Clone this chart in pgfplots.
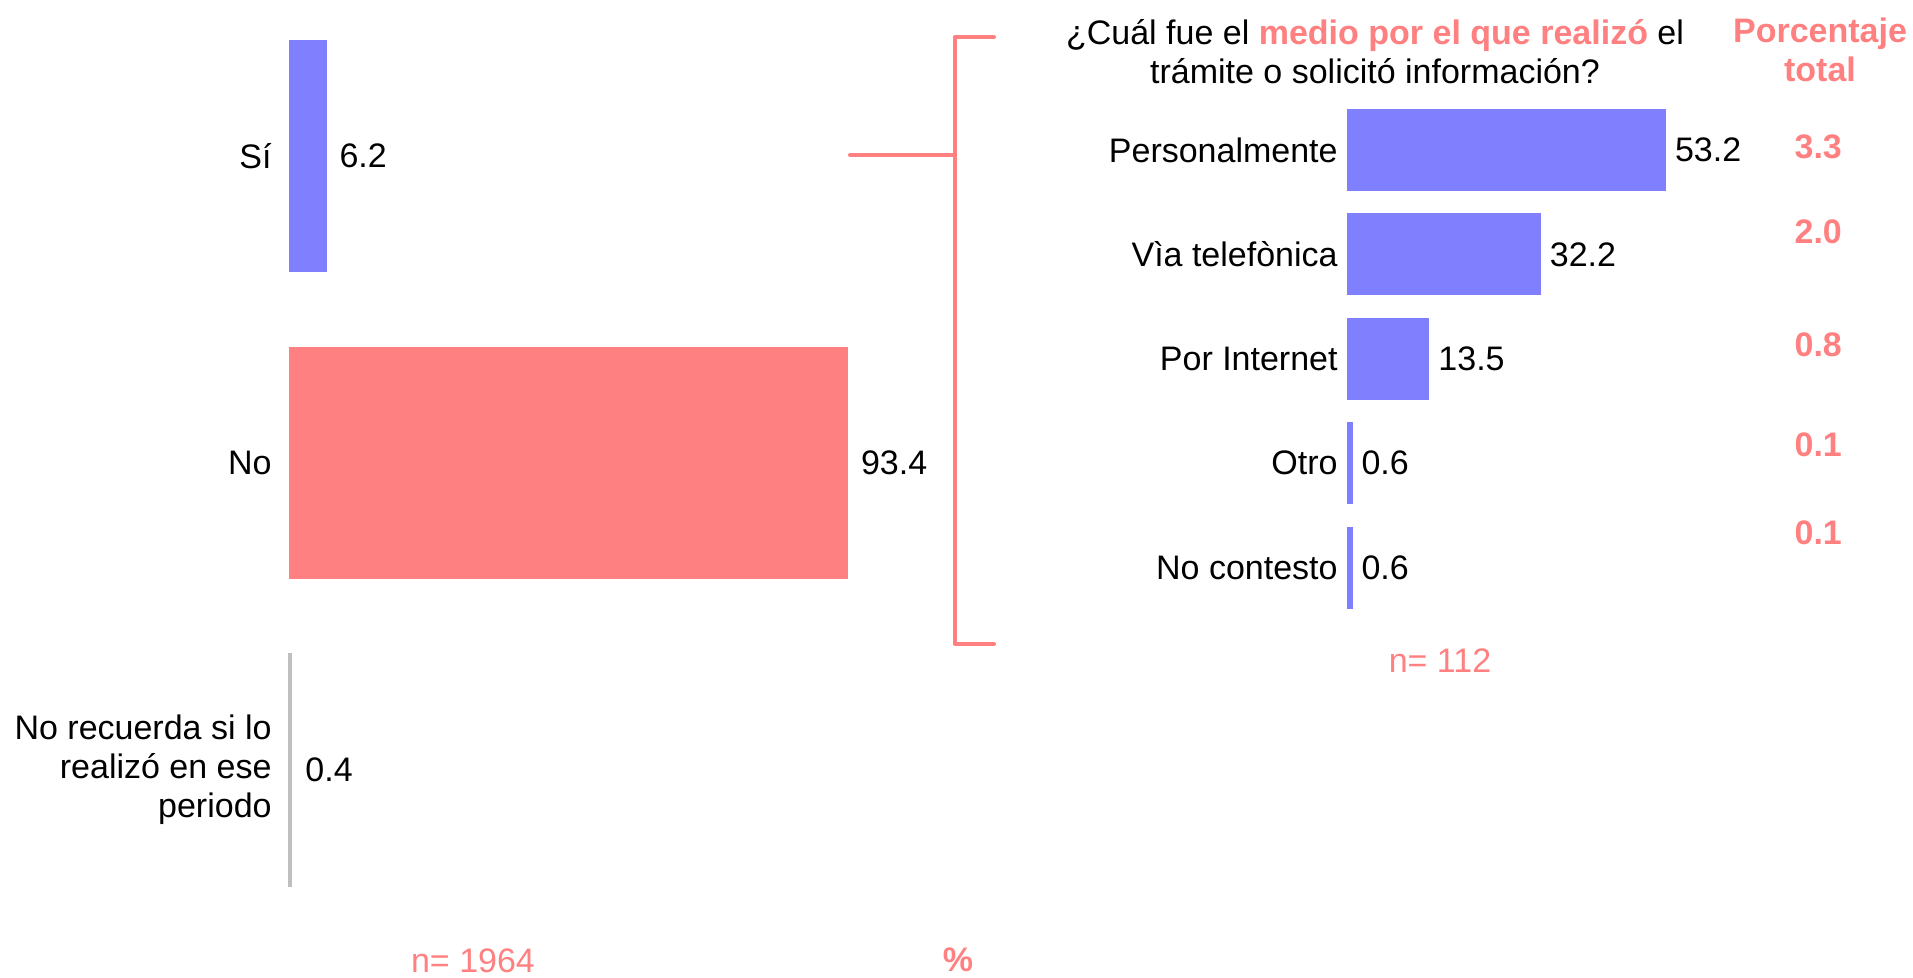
\documentclass[border=0pt]{standalone}
\usepackage{pgfplots}
\pgfplotsset{compat=1.18}
\usepackage{fontspec}
\setmainfont{Liberation Sans}
\definecolor{cblue}{HTML}{8080FF}
\definecolor{cpink}{HTML}{FF8080}
\definecolor{cgray}{HTML}{BFBFBF}
\newcommand{\fs}{\fontsize{17bp}{19.5bp}\selectfont}
\pgfplotsset{
  mybars/.style={
    scale only axis, clip=false,
    axis line style={draw=none},
    tick style={draw=none},
    major tick length=0pt,
    xtick=\empty,
    y dir=reverse,
    tick label style={font=\fs},
    yticklabel style={align=right, inner xsep=0pt},
    point meta=x,
    /pgf/number format/.cd, fixed, fixed zerofill, precision=1, assume math mode=true,
  },
  valnodes/.style={
    nodes near coords,
    nodes near coords style={anchor=west, inner xsep=0pt, xshift=#1, font=\fs, text=black},
  },
  valnodes/.default=6.5bp,
}
\begin{document}
\fs
\begin{tikzpicture}
\useasboundingbox (0,0) rectangle (956.5bp,489bp);

% Left chart
\begin{axis}[mybars, at={(144.5bp,487.75bp)}, anchor=north west,
  width=299bp, height=460.5bp,
  xmin=0, xmax=100, ymin=-0.5, ymax=2.5,
  ytick={0,1,2},
  yticklabels={S\'{\i}, No, {No recuerda si lo\\realizó en ese\\periodo}},
  yticklabel style={xshift=-8.5bp}]
\addplot[xbar, bar shift=0pt, bar width=0.755, fill=cblue, draw=cblue, line width=0.5bp, valnodes] coordinates {(6.2,0)};
\addplot[xbar, bar shift=0pt, bar width=0.755, fill=cpink, draw=cpink, line width=0.5bp, valnodes] coordinates {(93.4,1)};
\addplot[xbar, bar shift=0pt, bar width=0.755, fill=cgray, draw=cgray, line width=1bp, valnodes] coordinates {(0.4,2)};
\end{axis}

% Right chart
\begin{axis}[mybars, at={(674bp,440.1bp)}, anchor=north west,
  width=238.4bp, height=261bp,
  xmin=0, xmax=80, ymin=-0.5, ymax=4.5,
  ytick={0,1,2,3,4},
  yticklabels={Personalmente, Vìa telefònica, Por Internet, Otro, No contesto},
  yticklabel style={xshift=-5bp}]
\addplot[xbar, bar shift=0pt, bar width=0.766, fill=cblue, draw=cblue, line width=1bp, valnodes=4.5bp]
  coordinates {(53.2,0) (32.2,1) (13.5,2) (0.6,3) (0.6,4)};
% Porcentaje total column
\addplot[draw=none, no marks, nodes near coords, point meta=explicit symbolic,
  nodes near coords style={anchor=center, inner sep=0pt, font=\fs\bfseries, text=cpink}]
  coordinates {(78.9,-0.034)[3.3] (78.9,0.78)[2.0] (78.9,1.87)[0.8] (78.9,2.82)[0.1] (78.9,3.67)[0.1]};
\end{axis}

% bracket
\draw[cpink, line width=2bp, line cap=round, line join=round] (497bp,470.5bp) -- (477.5bp,470.5bp) -- (477.5bp,167bp) -- (497bp,167bp);
\draw[cpink, line width=2bp, line cap=round] (425bp,411.5bp) -- (477.5bp,411.5bp);

% titles and notes
\node[align=center, font=\fs] at (687.5bp,463.25bp) {¿Cuál fue el {\color{cpink}\bfseries medio por el que realizó} el\\trámite o solicitó información?};
\node[align=center, font=\fs\bfseries, text=cpink] at (910bp,464bp) {Porcentaje\\total};
\node[font=\fs, text=cpink] at (236.5bp,8.5bp) {n= 1964};
\node[font=\fs, text=cpink] at (720bp,158.5bp) {n= 112};
\node[font=\fs\bfseries, text=cpink, inner sep=0pt] at (479bp,9bp) {\%};
\end{tikzpicture}
\end{document}
